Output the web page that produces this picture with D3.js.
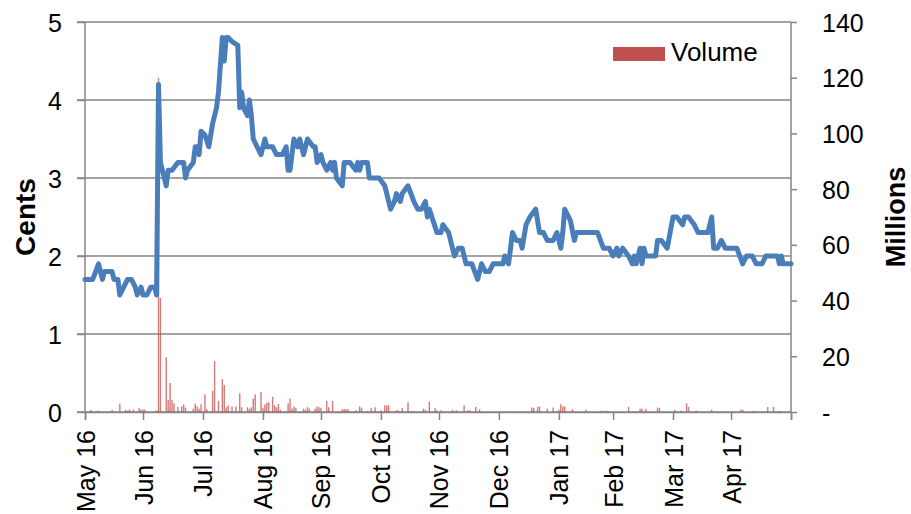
<!DOCTYPE html>
<html>
<head>
<meta charset="utf-8">
<script src="https://cdn.jsdelivr.net/npm/d3@7"></script>
<style>
  body { margin: 0; background: #fff; }
  svg text { font-family: "Liberation Sans", Arial, sans-serif; fill: #000; }
</style>
</head>
<body>
<div id="root" style="width:911px;height:514px"></div>
<script>
// share price, cents (trading days)
var priceDates = ["2016-05-31","2016-06-04","2016-06-07","2016-06-09","2016-06-10","2016-06-14","2016-06-15","2016-06-17","2016-06-18","2016-06-20",
  "2016-06-22","2016-06-24","2016-06-26","2016-06-27","2016-06-29","2016-06-30","2016-07-02","2016-07-04","2016-07-06","2016-07-07",
  "2016-07-08","2016-07-09","2016-07-10","2016-07-12","2016-07-13","2016-07-15","2016-07-18","2016-07-19","2016-07-21","2016-07-22",
  "2016-07-23","2016-07-26","2016-07-27","2016-07-28","2016-07-29","2016-07-30","2016-08-01","2016-08-03","2016-08-05","2016-08-07",
  "2016-08-08","2016-08-10","2016-08-11","2016-08-12","2016-08-13","2016-08-15","2016-08-18","2016-08-19","2016-08-20","2016-08-21",
  "2016-08-23","2016-08-24","2016-08-25","2016-08-26","2016-08-28","2016-08-30","2016-09-01","2016-09-02","2016-09-05","2016-09-07",
  "2016-09-10","2016-09-12","2016-09-13","2016-09-14","2016-09-16","2016-09-18","2016-09-19","2016-09-21","2016-09-23","2016-09-26",
  "2016-09-27","2016-09-28","2016-09-30","2016-10-01","2016-10-03","2016-10-05","2016-10-06","2016-10-07","2016-10-08","2016-10-11",
  "2016-10-12","2016-10-15","2016-10-18","2016-10-19","2016-10-20","2016-10-21","2016-10-24","2016-10-25","2016-10-30","2016-11-02",
  "2016-11-05","2016-11-07","2016-11-08","2016-11-10","2016-11-11","2016-11-14","2016-11-17","2016-11-19","2016-11-21","2016-11-23",
  "2016-11-24","2016-11-25","2016-11-29","2016-12-01","2016-12-02","2016-12-05","2016-12-08","2016-12-10","2016-12-12","2016-12-14",
  "2016-12-17","2016-12-20","2016-12-22","2016-12-24","2016-12-26","2016-12-28","2017-01-02","2017-01-03","2017-01-05","2017-01-07",
  "2017-01-09","2017-01-11","2017-01-12","2017-01-14","2017-01-16","2017-01-19","2017-01-21","2017-01-23","2017-01-25","2017-01-28",
  "2017-01-30","2017-02-01","2017-02-02","2017-02-03","2017-02-06","2017-02-08","2017-02-09","2017-02-20","2017-02-23","2017-02-26",
  "2017-02-28","2017-03-02","2017-03-03","2017-03-05","2017-03-08","2017-03-10","2017-03-11","2017-03-12","2017-03-14","2017-03-15",
  "2017-03-16","2017-03-17","2017-03-22","2017-03-23","2017-03-25","2017-03-28","2017-03-31","2017-04-02","2017-04-05","2017-04-06",
  "2017-04-08","2017-04-11","2017-04-13","2017-04-18","2017-04-20","2017-04-21","2017-04-23","2017-04-25","2017-04-27","2017-05-03",
  "2017-05-06","2017-05-08","2017-05-11","2017-05-13","2017-05-16","2017-05-18","2017-05-24","2017-05-25","2017-05-26","2017-05-27",
  "2017-05-31"];
var priceCents = [1.7,1.7,1.9,1.7,1.8,1.8,1.7,1.7,1.5,1.6,
  1.7,1.7,1.6,1.5,1.6,1.5,1.5,1.6,1.6,1.5,
  4.2,3.2,3.1,2.9,3.1,3.1,3.2,3.2,3.2,3.0,
  3.1,3.2,3.4,3.4,3.3,3.6,3.55,3.4,3.7,3.9,
  4.1,4.8,4.5,4.8,4.8,4.75,4.7,3.9,4.1,3.9,
  3.8,4.0,3.8,3.5,3.4,3.3,3.5,3.4,3.4,3.3,
  3.3,3.4,3.1,3.1,3.5,3.4,3.5,3.3,3.5,3.4,
  3.4,3.2,3.3,3.2,3.1,3.2,3.1,3.2,3.0,2.9,
  3.2,3.2,3.1,3.2,3.1,3.2,3.2,3.0,3.0,2.9,
  2.6,2.7,2.8,2.7,2.8,2.9,2.7,2.6,2.6,2.7,
  2.5,2.6,2.3,2.3,2.4,2.3,2.0,2.1,2.1,1.9,
  1.9,1.7,1.9,1.8,1.8,1.9,1.9,2.0,1.9,2.3,
  2.2,2.2,2.1,2.4,2.5,2.6,2.3,2.3,2.2,2.2,
  2.3,2.1,2.3,2.6,2.45,2.2,2.3,2.3,2.1,2.1,
  2.0,2.1,2.0,2.1,2.0,1.9,2.0,1.9,2.1,1.9,
  2.1,2.0,2.0,2.2,2.2,2.1,2.5,2.5,2.4,2.5,
  2.5,2.4,2.3,2.3,2.5,2.1,2.1,2.2,2.1,2.1,
  1.9,2.0,2.0,1.9,1.9,2.0,2.0,1.9,2.0,1.9,
  1.9];

// traded volume, millions of shares
var volDates = ["2016-06-03","2016-06-07","2016-06-14","2016-06-18","2016-06-21","2016-06-22","2016-06-23","2016-06-25","2016-06-28","2016-06-29",
  "2016-06-30","2016-07-01","2016-07-07","2016-07-08","2016-07-09","2016-07-12","2016-07-13","2016-07-14","2016-07-15","2016-07-16",
  "2016-07-18","2016-07-20","2016-07-21","2016-07-22","2016-07-26","2016-07-27","2016-07-28","2016-07-29","2016-07-30","2016-08-01",
  "2016-08-02","2016-08-05","2016-08-06","2016-08-08","2016-08-10","2016-08-11","2016-08-12","2016-08-13","2016-08-15","2016-08-17",
  "2016-08-19","2016-08-20","2016-08-23","2016-08-24","2016-08-25","2016-08-26","2016-08-27","2016-08-30","2016-08-31","2016-09-01",
  "2016-09-02","2016-09-03","2016-09-05","2016-09-06","2016-09-07","2016-09-08","2016-09-09","2016-09-13","2016-09-14","2016-09-15",
  "2016-09-16","2016-09-17","2016-09-21","2016-09-22","2016-09-23","2016-09-24","2016-09-27","2016-09-28","2016-09-29","2016-09-30",
  "2016-10-03","2016-10-04","2016-10-06","2016-10-11","2016-10-12","2016-10-13","2016-10-14","2016-10-18","2016-10-20","2016-10-21",
  "2016-10-24","2016-10-26","2016-10-28","2016-10-31","2016-11-02","2016-11-03","2016-11-04","2016-11-08","2016-11-09","2016-11-11",
  "2016-11-14","2016-11-16","2016-11-22","2016-11-23","2016-11-25","2016-11-28","2016-11-29","2016-12-01","2016-12-07","2016-12-09",
  "2016-12-13","2016-12-15","2016-12-16","2016-12-19","2016-12-21","2017-01-06","2017-01-11","2017-01-17","2017-01-18","2017-01-20",
  "2017-01-21","2017-01-25","2017-01-28","2017-01-31","2017-02-01","2017-02-02","2017-02-03","2017-02-07","2017-02-14","2017-02-22",
  "2017-02-24","2017-02-25","2017-03-08","2017-03-14","2017-03-15","2017-03-17","2017-03-23","2017-03-24","2017-04-01","2017-04-04",
  "2017-04-07","2017-04-08","2017-04-12","2017-04-20","2017-04-27","2017-05-05","2017-05-06","2017-05-12","2017-05-19","2017-05-22",
  "2017-05-25"];
var volMillions = [0.8,0.5,0.8,3.0,0.8,0.5,0.9,0.9,1.4,0.8,
  0.9,0.9,0.6,120,41,19.7,4.3,10.4,4.3,3.1,
  1.8,2.0,2.7,1.6,1.2,3.0,2.0,1.2,2.8,6.3,
  1.0,7.6,18.3,4.0,11.8,9.7,1.7,2.4,2.0,2.0,
  6.7,1.7,1.7,1.2,1.7,4.8,6.3,7.2,1.5,2.7,
  3.3,3.5,5.5,2.4,1.7,2.9,0.8,3.1,4.8,1.2,
  2.0,1.5,1.2,0.8,1.7,1.2,1.2,2.0,1.7,1.5,
  4.0,1.7,4.0,1.0,1.0,1.0,1.0,0.6,2.0,1.5,
  0.4,1.5,1.7,0.6,2.4,2.4,2.4,0.6,0.6,1.4,
  3.5,0.4,1.2,0.8,3.7,1.4,0.6,0.6,0.8,0.6,
  2.4,0.6,0.6,1.8,1.0,0.3,0.3,1.6,1.5,1.8,
  2.0,1.2,1.6,0.8,2.8,2.0,2.0,1.0,0.8,0.5,
  0.5,0.4,1.8,1.2,1.2,1.2,1.6,1.4,0.8,0.5,
  3.1,1.8,0.5,0.8,0.3,0.8,0.8,0.4,1.8,1.8,
  0.4];

var centTicks = [0, 1, 2, 3, 4, 5];
var millionTicks = [0, 20, 40, 60, 80, 100, 120, 140];

function draw(selector) {
    var parse = d3.timeParse("%Y-%m-%d");
    var price = priceDates.map(function(d, i) { return {date: parse(d), value: priceCents[i]}; });
    var volume = volDates.map(function(d, i) { return {date: parse(d), value: volMillions[i]}; });

    var width = 911, height = 514,
        x0 = 85, x1 = 791, y0 = 412, y1 = 22,
        gridColor = "#868686";

    var svg = d3.select(selector).append("svg")
        .attr("width", width)
        .attr("height", height);

    var start = parse("2016-05-31"), end = parse("2017-05-31");
    var x = d3.scaleTime().domain([start, end]).range([x0, x1]);
    var y = d3.scaleLinear().domain([0, 5]).range([y0, y1]);
    var y2 = d3.scaleLinear().domain([0, 140]).range([y0, y1]);

    // month ticks sit on the last day of each month
    var monthTicks = d3.timeMonth.range(parse("2016-06-01"), parse("2017-07-01"))
        .map(function(d) { return d3.timeDay.offset(d, -1); });

    // horizontal gridlines (with the short outside tick on the left)
    svg.append("g")
        .selectAll("line")
        .data(centTicks)
        .enter()
        .append("line")
        .attr("x1", x0 - 8)
        .attr("x2", x1)
        .attr("y1", function(d) { return y(d); })
        .attr("y2", function(d) { return y(d); })
        .attr("stroke", gridColor)
        .attr("stroke-width", 1.5);

    // left axis
    var yAxis = svg.append("g")
        .attr("transform", "translate(" + x0 + ",0)")
        .call(d3.axisLeft(y).tickValues(centTicks).tickSize(8).tickPadding(15).tickFormat(d3.format("d")));
    yAxis.select(".domain").attr("stroke", gridColor).attr("stroke-width", 1.5).attr("d", "M0," + y1 + "V" + y0);
    yAxis.selectAll(".tick line").attr("stroke", gridColor).attr("stroke-width", 1.5);
    yAxis.selectAll("text").style("font-size", "25px").attr("dy", "0.36em");

    // right axis
    var y2Axis = svg.append("g")
        .attr("transform", "translate(" + x1 + ",0)")
        .call(d3.axisRight(y2).tickValues(millionTicks).tickSize(6).tickPadding(25)
              .tickFormat(function(d) { return d === 0 ? "-" : d; }));
    y2Axis.select(".domain").attr("stroke", gridColor).attr("stroke-width", 1.5).attr("d", "M0," + y1 + "V" + y0);
    y2Axis.selectAll(".tick line").attr("stroke", gridColor).attr("stroke-width", 1.5);
    y2Axis.selectAll("text").style("font-size", "25px").attr("dy", "0.36em");

    // bottom axis
    var xAxis = svg.append("g")
        .attr("transform", "translate(0," + y0 + ")")
        .call(d3.axisBottom(x).tickValues(monthTicks).tickSize(8)
              .tickFormat(function(d, i) { return i === monthTicks.length - 1 ? "" : d3.timeFormat("%b %y")(d); }));
    xAxis.select(".domain").attr("stroke", gridColor).attr("stroke-width", 1.5);
    xAxis.selectAll(".tick line").attr("stroke", gridColor).attr("stroke-width", 1.5);
    xAxis.selectAll("text")
        .style("font-size", "25px")
        .attr("text-anchor", "end")
        .attr("transform", "rotate(-90)")
        .attr("x", -18)
        .attr("y", 9)
        .attr("dy", null);

    // volume bars
    svg.append("g")
        .selectAll("rect")
        .data(volume)
        .enter()
        .append("rect")
        .attr("x", function(d) { return x(d.date) - 0.7; })
        .attr("width", 1.4)
        .attr("y", function(d) { return y2(d.value); })
        .attr("height", function(d) { return y0 - y2(d.value); })
        .attr("fill", "#C0504D")
        .attr("opacity", 0.75);

    // price line
    var line = d3.line()
        .x(function(d) { return x(d.date); })
        .y(function(d) { return y(d.value); });

    svg.append("path")
        .datum(price)
        .attr("d", line)
        .attr("fill", "none")
        .attr("stroke", "#4A7EBB")
        .attr("stroke-width", 5)
        .attr("stroke-linejoin", "round")
        .attr("stroke-linecap", "round");

    // axis titles
    svg.append("text")
        .attr("transform", "translate(35," + (y0 + y1) / 2 + ") rotate(-90)")
        .attr("text-anchor", "middle")
        .style("font-size", "28px")
        .style("font-weight", "bold")
        .text("Cents");

    svg.append("text")
        .attr("transform", "translate(905," + (y0 + y1) / 2 + ") rotate(-90)")
        .attr("text-anchor", "middle")
        .style("font-size", "27px")
        .style("font-weight", "bold")
        .text("Millions");

    // legend
    var legend = svg.append("g");
    legend.append("rect")
        .attr("x", 613)
        .attr("y", 47)
        .attr("width", 52)
        .attr("height", 14)
        .attr("fill", "#C0504D");
    legend.append("text")
        .attr("x", 671)
        .attr("y", 61)
        .style("font-size", "26px")
        .text("Volume");
}

draw("#root");
</script>
</body>
</html>
